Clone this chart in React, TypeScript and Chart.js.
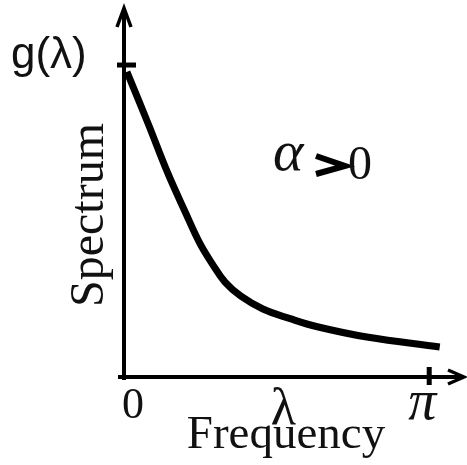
import React, { useEffect, useRef } from "react";
import { Chart, registerables } from "chart.js";

Chart.register(...registerables);

const frequency = [0.03, 0.25, 0.45, 0.63, 0.78, 0.91, 1.04, 1.2, 1.43, 1.71, 1.99, 2.5, 3.25];
const spectrum = [0.978, 0.811, 0.654, 0.529, 0.429, 0.362, 0.304, 0.26, 0.218, 0.187, 0.161, 0.128, 0.096];
const tickLabels = ["0", "λ", "π"];
const tickValues = [0, 1.64, Math.PI];
const yTickValue = 1;
const xAxisTitle = "Frequency";
const yAxisTitle = "Spectrum";
const yTopLabel = "g(λ)";
const noteSymbol = "α";
const noteRest = "0";

const axesPlugin = {
  id: "axesPlugin",
  afterDatasetsDraw(chart: any) {
    const { ctx, scales } = chart;
    const xs = scales.x;
    const ys = scales.y;
    const x0 = xs.getPixelForValue(0);
    const y0 = ys.getPixelForValue(0);
    const xEnd = xs.getPixelForValue(xs.max);
    const yTop = ys.getPixelForValue(ys.max);
    ctx.save();
    ctx.strokeStyle = "#000";
    ctx.fillStyle = "#000";
    ctx.lineWidth = 4;
    ctx.lineCap = "butt";
    // y axis
    ctx.beginPath();
    ctx.moveTo(x0, y0 + 3);
    ctx.lineTo(x0, yTop + 4);
    ctx.stroke();
    // x axis
    ctx.beginPath();
    ctx.moveTo(x0 - 6, y0);
    ctx.lineTo(xEnd - 4, y0);
    ctx.stroke();
    // arrowheads
    ctx.lineWidth = 3.5;
    ctx.lineJoin = "miter";
    ctx.beginPath();
    ctx.moveTo(x0 - 7, yTop + 20);
    ctx.lineTo(x0, yTop + 1);
    ctx.lineTo(x0 + 7, yTop + 20);
    ctx.stroke();
    ctx.beginPath();
    ctx.moveTo(xEnd - 17, y0 - 7);
    ctx.lineTo(xEnd - 1, y0);
    ctx.lineTo(xEnd - 17, y0 + 7);
    ctx.stroke();
    // y tick
    const yt = ys.getPixelForValue(yTickValue);
    ctx.lineWidth = 5;
    ctx.beginPath();
    ctx.moveTo(x0 - 7, yt);
    ctx.lineTo(x0 + 12, yt);
    ctx.stroke();
    // pi tick
    const xp = xs.getPixelForValue(tickValues[2]);
    ctx.beginPath();
    ctx.moveTo(xp, y0 - 10);
    ctx.lineTo(xp, y0 + 8);
    ctx.stroke();

    // texts
    ctx.fillStyle = "#111";
    ctx.textAlign = "center";
    ctx.textBaseline = "alphabetic";
    tickLabels.forEach((t, i) => {
      const px = xs.getPixelForValue(tickValues[i]);
      if (i === 0) {
        ctx.font = "44px 'Liberation Serif'";
        ctx.fillText(t, px + 9, y0 + 41);
      } else if (i === 1) {
        ctx.font = "52px 'Liberation Serif'";
        ctx.fillText(t, px, y0 + 47);
      } else {
        ctx.font = "italic 56px 'Liberation Serif'";
        ctx.fillText(t, px - 7, y0 + 42);
      }
    });
    ctx.font = "47px 'Liberation Serif'";
    ctx.fillText(xAxisTitle, 286, y0 + 71);

    ctx.save();
    ctx.translate(103, 215);
    ctx.rotate(-Math.PI / 2);
    ctx.font = "48px 'Liberation Serif'";
    ctx.fillText(yAxisTitle, 0, 0);
    ctx.restore();

    ctx.textAlign = "left";
    ctx.font = "44px 'Liberation Sans'";
    ctx.fillText(yTopLabel, 11, 68);

    ctx.font = "italic 58px 'Liberation Serif'";
    ctx.fillText(noteSymbol, 273, 170);
    // thick ">"
    ctx.strokeStyle = "#000";
    ctx.lineWidth = 6;
    ctx.lineJoin = "miter";
    ctx.beginPath();
    ctx.moveTo(316, 156);
    ctx.lineTo(345, 166);
    ctx.lineTo(316, 174);
    ctx.stroke();
    ctx.font = "48px 'Liberation Serif'";
    ctx.fillText(noteRest, 348, 179);
    ctx.restore();
  },
};

export default function App() {
  const ref = useRef<HTMLCanvasElement | null>(null);
  useEffect(() => {
    if (!ref.current) return;
    const chart = new Chart(ref.current, {
      type: "line",
      data: {
        datasets: [
          {
            data: frequency.map((x, i) => ({ x, y: spectrum[i] })),
            borderColor: "#000",
            borderWidth: 7,
            pointRadius: 0,
            tension: 0.4,
            fill: false,
          },
        ],
      },
      options: {
        animation: false,
        responsive: true,
        maintainAspectRatio: false,
        layout: { padding: { left: 124, right: 2, top: 7, bottom: 88 } },
        plugins: { legend: { display: false }, tooltip: { enabled: false } },
        scales: {
          x: { type: "linear", min: 0, max: 3.51, display: false },
          y: { type: "linear", min: 0, max: 1.186, display: false },
        },
      },
      plugins: [axesPlugin],
    });
    return () => chart.destroy();
  }, []);
  return (
    <div style={{ position: "absolute", left: 0, top: 0, width: 467, height: 465, background: "#fff" }}>
      <canvas ref={ref} />
    </div>
  );
}
